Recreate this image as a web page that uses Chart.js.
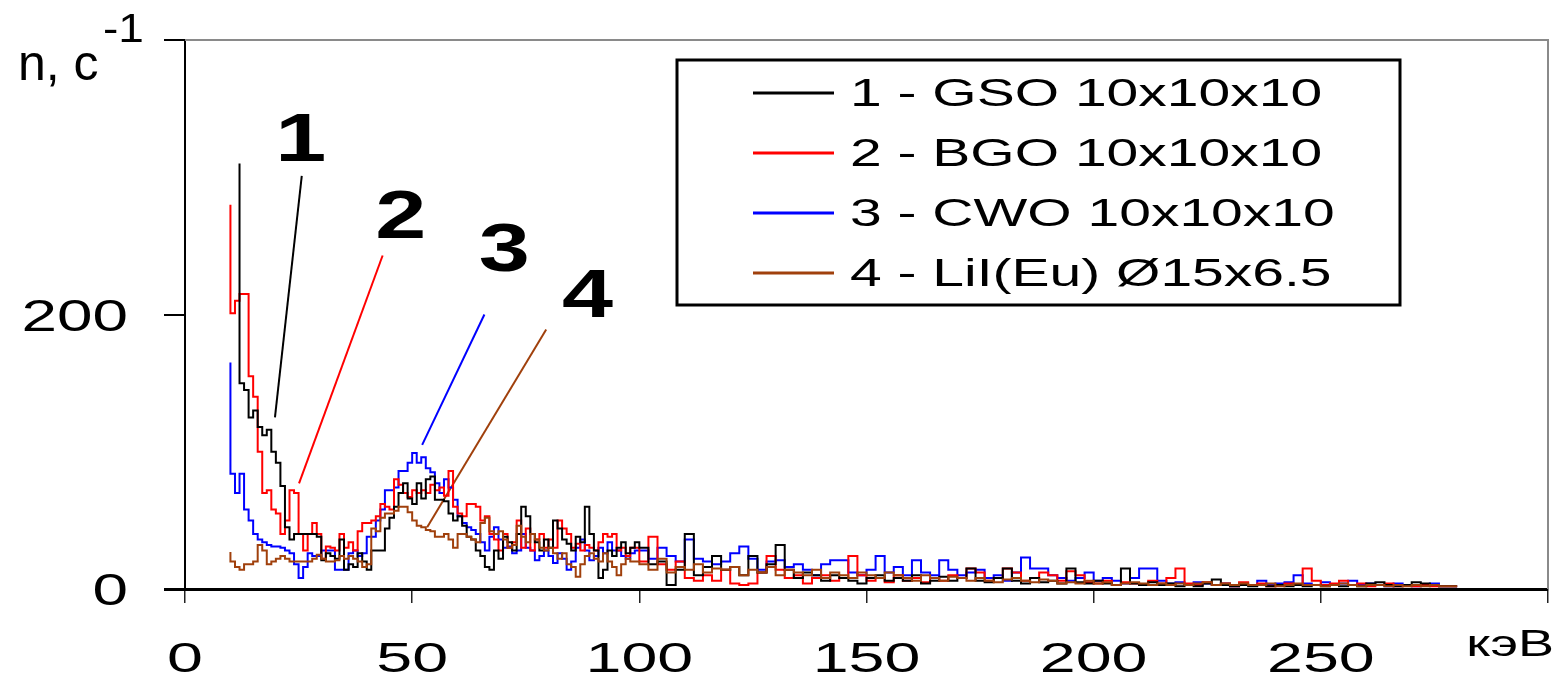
<!DOCTYPE html>
<html>
<head>
<meta charset="utf-8">
<script src="https://cdn.jsdelivr.net/npm/chart.js@4.4.0/dist/chart.umd.min.js"></script>
<style>
  html, body { margin: 0; padding: 0; background: #fff; }
  #wrap { width: 1563px; height: 677px; }
</style>
</head>
<body>
<div id="wrap"><canvas id="chart"></canvas></div>
<script>
// energy bins, keV (1 keV up to 100, then 2 keV)
const energy = [
  10, 11, 12, 13, 14, 15, 16, 17, 18, 19,
  20, 21, 22, 23, 24, 25, 26, 27, 28, 29,
  30, 31, 32, 33, 34, 35, 36, 37, 38, 39,
  40, 41, 42, 43, 44, 45, 46, 47, 48, 49,
  50, 51, 52, 53, 54, 55, 56, 57, 58, 59,
  60, 61, 62, 63, 64, 65, 66, 67, 68, 69,
  70, 71, 72, 73, 74, 75, 76, 77, 78, 79,
  80, 81, 82, 83, 84, 85, 86, 87, 88, 89,
  90, 91, 92, 93, 94, 95, 96, 97, 98, 99,
  100, 102, 104, 106, 108, 110, 112, 114, 116, 118,
  120, 122, 124, 126, 128, 130, 132, 134, 136, 138,
  140, 142, 144, 146, 148, 150, 152, 154, 156, 158,
  160, 162, 164, 166, 168, 170, 172, 174, 176, 178,
  180, 182, 184, 186, 188, 190, 192, 194, 196, 198,
  200, 202, 204, 206, 208, 210, 212, 214, 216, 218,
  220, 222, 224, 226, 228, 230, 232, 234, 236, 238,
  240, 242, 244, 246, 248, 250, 252, 254, 256, 258,
  260, 262, 264, 266, 268, 270, 272, 274, 276, 278,
  280
];

// count rate n, 1/s
const gso = [
  null, null, 310, 150, 145, 125, 130, 118, 112, 116,
  100, 92, 75, 45, 36, 40, 40, 40, 40, 40,
  38, 21, 26, 24, 22, 36, 14, 18, 16, 26,
  20, 14, 28, 28, 28, 44, 52, 60, 70, 77,
  66, 62, 77, 66, 80, 82, 65, 65, 64, 55,
  50, 53, 46, 38, 36, 28, 24, 16, 14, 28,
  22, 38, 34, 28, 40, 60, 53, 40, 34, 28,
  36, 30, 50, 44, 36, 33, 28, 38, 34, 60,
  40, 28, 8, 14, 28, 24, 30, 34, 26, 30,
  34, 30, 18, 20, 3, 14, 40, 10, 16, 24,
  14, 16, 10, 24, 12, 18, 32, 14, 8, 12,
  10, 6, 10, 8, 6, 4, 8, 10, 6, 8,
  6, 10, 4, 6, 9, 6, 8, 15, 6, 5,
  8, 15, 6, 4, 8, 5, 6, 4, 15, 5,
  4, 6, 4, 3, 15, 4, 3, 5, 3, 4,
  2, 3, 2, 4, 7, 3, 2, 3, 2, 3,
  2, 3, 2, 3, 2, 3, 2, 3, 2, 3,
  2, 4, 5, 3, 2, 3, 5, 4, 3, 2,
  2
];

const bgo = [
  280, 201, 210, 215, 215, 155, 140, 100, 70, 72,
  58, 55, 40, 50, 72, 70, 40, 28, 40, 48,
  40, 22, 31, 30, 28, 40, 30, 34, 28, 42,
  48, 48, 50, 53, 62, 60, 58, 80, 76, 70,
  67, 72, 70, 72, 70, 76, 72, 74, 68, 86,
  60, 55, 53, 62, 62, 60, 50, 53, 40, 36,
  28, 40, 30, 34, 50, 30, 44, 28, 36, 40,
  30, 36, 30, 50, 44, 40, 30, 33, 28, 32,
  30, 28, 34, 40, 38, 40, 28, 30, 24, 30,
  30, 20, 38, 18, 14, 20, 8, 6, 10, 6,
  14, 4, 3, 4, 12, 24, 14, 8, 10, 4,
  8, 10, 6, 8, 24, 10, 6, 8, 5, 10,
  6, 8, 5, 8, 6, 10, 8, 15, 12, 6,
  8, 15, 12, 6, 8, 12, 10, 6, 13, 10,
  5, 4, 6, 3, 5, 4, 3, 6, 4, 8,
  15, 4, 3, 5, 3, 4, 2, 5, 3, 4,
  2, 3, 4, 3, 15, 6, 3, 4, 6, 3,
  4, 2, 3, 4, 2, 3, 2, 3, 2, 2,
  2
];

const cwo = [
  165, 84, 70, 84, 58, 50, 40, 36, 34, 32,
  31, 31, 30, 28, 26, 18, 8, 16, 26, 24,
  24, 28, 28, 28, 14, 14, 14, 26, 28, 24,
  26, 38, 38, 50, 58, 72, 72, 74, 86, 86,
  92, 99, 92, 96, 88, 85, 77, 70, 80, 74,
  65, 53, 48, 45, 43, 40, 34, 28, 38, 45,
  36, 30, 31, 26, 28, 40, 30, 28, 21, 24,
  28, 24, 19, 26, 22, 14, 20, 30, 36, 28,
  21, 24, 30, 26, 34, 28, 28, 24, 22, 26,
  28, 28, 22, 30, 24, 20, 36, 22, 20, 18,
  20, 26, 31, 22, 14, 20, 21, 16, 18, 14,
  10, 18, 21, 21, 12, 10, 14, 24, 12, 16,
  10, 21, 12, 10, 21, 14, 10, 12, 14, 8,
  10, 6, 12, 23, 15, 15, 10, 8, 6, 8,
  12, 6, 8, 6, 4, 8, 15, 15, 6, 4,
  5, 3, 5, 4, 3, 4, 2, 4, 3, 6,
  3, 4, 5, 10, 4, 3, 5, 3, 4, 6,
  3, 4, 3, 2, 4, 3, 2, 3, 4, 2,
  2
];

const lii = [
  27, 20, 16, 14, 18, 18, 20, 32, 28, 18,
  20, 22, 24, 22, 20, 20, 20, 20, 20, 22,
  25, 22, 20, 20, 21, 24, 22, 24, 22, 20,
  16, 18, 44, 42, 52, 55, 55, 57, 60, 60,
  56, 50, 46, 45, 43, 42, 38, 38, 40, 36,
  30, 40, 40, 38, 36, 34, 48, 52, 42, 40,
  42, 36, 30, 32, 46, 38, 34, 40, 36, 30,
  28, 30, 26, 22, 26, 18, 16, 9, 18, 24,
  26, 22, 20, 26, 20, 16, 10, 18, 22, 20,
  20, 18, 14, 22, 12, 16, 14, 18, 12, 15,
  14, 16, 10, 14, 12, 16, 10, 14, 12, 10,
  14, 8, 12, 10, 8, 12, 10, 8, 12, 10,
  8, 6, 10, 8, 6, 9, 8, 6, 8, 6,
  5, 7, 8, 6, 5, 7, 6, 4, 5, 4,
  6, 4, 5, 3, 4, 5, 4, 3, 4, 3,
  4, 3, 4, 5, 3, 4, 3, 4, 3, 3,
  4, 2, 3, 4, 3, 3, 2, 3, 4, 3,
  2, 3, 3, 2, 3, 2, 3, 2, 3, 2,
  2
];

const seriesNames = ['1 - GSO 10x10x10', '2 - BGO 10x10x10', '3 - CWO 10x10x10', '4 - LiI(Eu) Ø15x6.5'];
const seriesColors = ['#000000', '#ff0000', '#0000ff', '#a0400c'];
const xTickLabels = [0, 50, 100, 150, 200, 250];
const yTickLabels = [0, 200];

// curve numbers and their leader lines, in data units (keV, counts)
const markerText = ['1', '2', '3', '4'];
const markerAt = [[25.5, 312], [47.5, 256], [70.3, 232], [88.6, 198]];
const leaderFrom = [[25.7, 301], [43.5, 243], [65.9, 200], [79.5, 189]];
const leaderTo = [[19.8, 125], [25.1, 77], [52.2, 105], [53.3, 45]];

const FONT = '"Liberation Sans", Arial, sans-serif';

// the original picture is stretched sideways, so text is drawn widened
function wideText(ctx, text, x, y, size, align, sx, bold) {
    ctx.save();
    ctx.font = (bold ? 'bold ' : '') + size + 'px ' + FONT;
    ctx.textBaseline = 'alphabetic';
    ctx.textAlign = 'left';
    let w = ctx.measureText(text).width * sx;
    let left = align === 'center' ? x - w / 2 : (align === 'right' ? x - w : x);
    ctx.translate(left, y);
    ctx.scale(sx, 1);
    ctx.fillStyle = '#000';
    ctx.fillText(text, 0, 0);
    ctx.restore();
}

function line(ctx, x1, y1, x2, y2, color, width) {
    ctx.beginPath();
    ctx.moveTo(x1, y1);
    ctx.lineTo(x2, y2);
    ctx.strokeStyle = color;
    ctx.lineWidth = width;
    ctx.stroke();
}

const decorations = {
    id: 'decorations',
    beforeDatasetsDraw(chart) {
        const ctx = chart.ctx;
        const x = chart.scales.x, y = chart.scales.y;
        ctx.save();
        for (let i = 0; i < leaderFrom.length; i++) {
            line(ctx,
                x.getPixelForValue(leaderFrom[i][0]), y.getPixelForValue(leaderFrom[i][1]),
                x.getPixelForValue(leaderTo[i][0]), y.getPixelForValue(leaderTo[i][1]),
                seriesColors[i], 2);
        }
        ctx.restore();
    },
    afterDraw(chart) {
        const ctx = chart.ctx;
        const area = chart.chartArea;
        const x = chart.scales.x, y = chart.scales.y;
        ctx.save();

        // grey frame on top and right
        ctx.beginPath();
        ctx.moveTo(area.left, area.top);
        ctx.lineTo(area.right, area.top);
        ctx.lineTo(area.right, area.bottom);
        ctx.strokeStyle = '#8a8a8a';
        ctx.lineWidth = 2;
        ctx.stroke();

        // tick labels
        for (let v of xTickLabels) {
            wideText(ctx, String(v), x.getPixelForValue(v), 672, 43, 'center', 1.5);
        }
        for (let v of yTickLabels) {
            wideText(ctx, String(v), 128, y.getPixelForValue(v) + 16, 44, 'right', 1.45);
        }
        wideText(ctx, 'кэВ', 1554, 656, 36, 'right', 1.5);
        wideText(ctx, 'n, c', 18, 80, 50, 'left', 1.0);
        wideText(ctx, '-1', 103, 42, 40, 'left', 1.15);

        // curve numbers
        for (let i = 0; i < markerText.length; i++) {
            wideText(ctx, markerText[i], x.getPixelForValue(markerAt[i][0]),
                y.getPixelForValue(markerAt[i][1]), 68, 'center', 1.35, true);
        }

        // legend box
        ctx.fillStyle = '#fff';
        ctx.fillRect(677, 60, 723, 245);
        ctx.strokeStyle = '#000';
        ctx.lineWidth = 3;
        ctx.strokeRect(677, 60, 723, 245);
        for (let i = 0; i < seriesNames.length; i++) {
            let rowY = 93 + i * 60;
            line(ctx, 753, rowY, 834, rowY, seriesColors[i], 3);
            wideText(ctx, seriesNames[i], 850, rowY + 13, 38, 'left', 1.5);
        }
        ctx.restore();
    }
};

function makeSeries(values, i, order) {
    return {
        label: seriesNames[i],
        data: energy.map((e, k) => ({ x: e, y: values[k] })),
        borderColor: seriesColors[i],
        borderWidth: 2,
        pointRadius: 0,
        stepped: 'after',
        fill: false,
        spanGaps: false,
        order: order
    };
}

const ctx = document.getElementById('chart').getContext('2d');

const myChart = new Chart(ctx, {
    type: 'line',
    data: {
        datasets: [
            makeSeries(gso, 0, 2),
            makeSeries(bgo, 1, 3),
            makeSeries(cwo, 2, 4),
            makeSeries(lii, 3, 1)
        ]
    },
    options: {
        responsive: true,
        maintainAspectRatio: false,
        animation: false,
        devicePixelRatio: 1,
        layout: {
            padding: { left: 0, top: 40, right: 15, bottom: 0 }
        },
        plugins: {
            legend: { display: false },
            tooltip: { enabled: false }
        },
        scales: {
            x: {
                type: 'linear',
                min: 0,
                max: 300,
                ticks: { display: false, stepSize: 50 },
                grid: {
                    drawOnChartArea: false,
                    drawTicks: true,
                    tickLength: 14,
                    color: '#222',
                    lineWidth: 1.5
                },
                border: { display: true, color: '#000', width: 3 },
                afterFit(scale) { scale.height = 88; }
            },
            y: {
                min: 0,
                max: 400,
                ticks: { display: false, stepSize: 200 },
                grid: {
                    drawOnChartArea: false,
                    drawTicks: true,
                    tickLength: 21,
                    color: '#000',
                    lineWidth: c => (c.tick && c.tick.value === 0 ? 3 : 2)
                },
                border: { display: true, color: '#000', width: 2 },
                afterFit(scale) { scale.width = 185; }
            }
        }
    },
    plugins: [decorations]
});
</script>
</body>
</html>
